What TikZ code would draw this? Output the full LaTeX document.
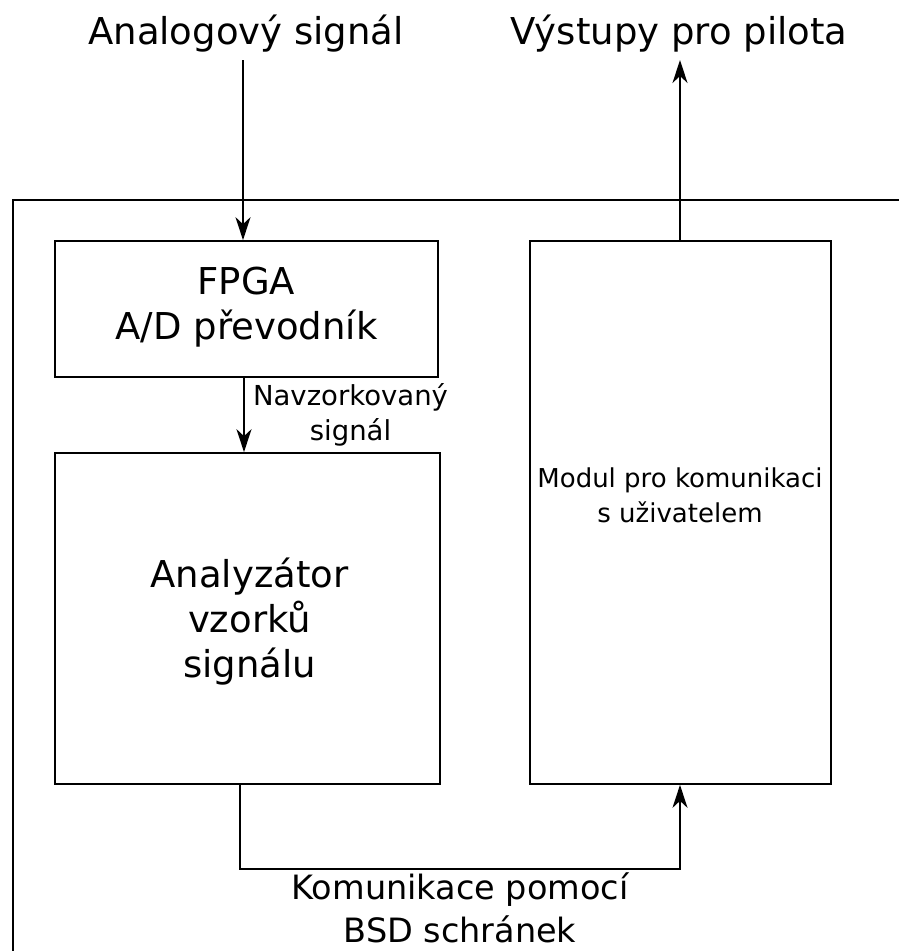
\documentclass[tikz,border=0pt]{standalone}
\usepackage{fontspec}
\setmainfont{DejaVu Sans}
\usetikzlibrary{arrows.meta}
\begin{document}
\begin{tikzpicture}[x=1pt,y=-1pt,
  line width=1.7pt,
  block/.style={draw, rectangle, inner sep=0pt, anchor=center},
  bigtext/.style={align=center, font=\fontsize{37}{45}\selectfont},
  midtext/.style={align=center, font=\fontsize{33.5}{43}\selectfont},
  smalltext/.style={align=center, font=\fontsize{26}{35}\selectfont},
  labeltext/.style={align=center, font=\fontsize{27.5}{35}\selectfont},
  flow/.style={-{Stealth[length=23pt,width=15pt,inset=7pt]}}]
  \useasboundingbox (0,0) rectangle (899,951);

  % open outer frame (clipped at right and bottom)
  \draw (13,951) -- (13,200) -- (899,200);

  % blocks
  \node[block, minimum width=383pt, minimum height=136pt] (fpga) at (246.5,309) {};
  \node[bigtext] (fpgatxt) at (246.5,307.5) {FPGA\\A/D převodník};

  \node[block, minimum width=385pt, minimum height=331pt] (ana) at (247.5,618.5) {};
  \node[bigtext] (anatxt) at (249.5,621.5) {Analyzátor\\vzorků\\signálu};

  \node[block, minimum width=301pt, minimum height=543pt] (mod) at (680.5,512.5) {};
  \node[smalltext] (modtxt) at (680,495) {Modul pro komunikaci\\s uživatelem};

  % titles
  \node[bigtext] (intitle) at (246,34) {Analogový signál};
  \node[bigtext] (outtitle) at (679,34) {Výstupy pro pilota};

  % connectors
  \coordinate (inTop) at (243,60);
  \draw[flow] (inTop) -- (inTop |- fpga.north);

  \coordinate (outTop) at (680,60);
  \draw[flow] (mod.north -| outTop) -- (outTop);

  \coordinate (sampX) at (244,0);
  \draw[flow] (fpga.south -| sampX) -- (ana.north -| sampX);
  \node[labeltext] (samptxt) at (350.5,414.5) {Navzorkovaný\\signál};

  \coordinate (busL) at (240,869);
  \coordinate (busR) at (680,869);
  \draw[flow] (ana.south -| busL) -- (busL) -- (busR) -- (mod.south -| busR);
  \node[midtext] (bustxt) at (460,908) {Komunikace pomocí\\BSD schránek};
\end{tikzpicture}
\end{document}
